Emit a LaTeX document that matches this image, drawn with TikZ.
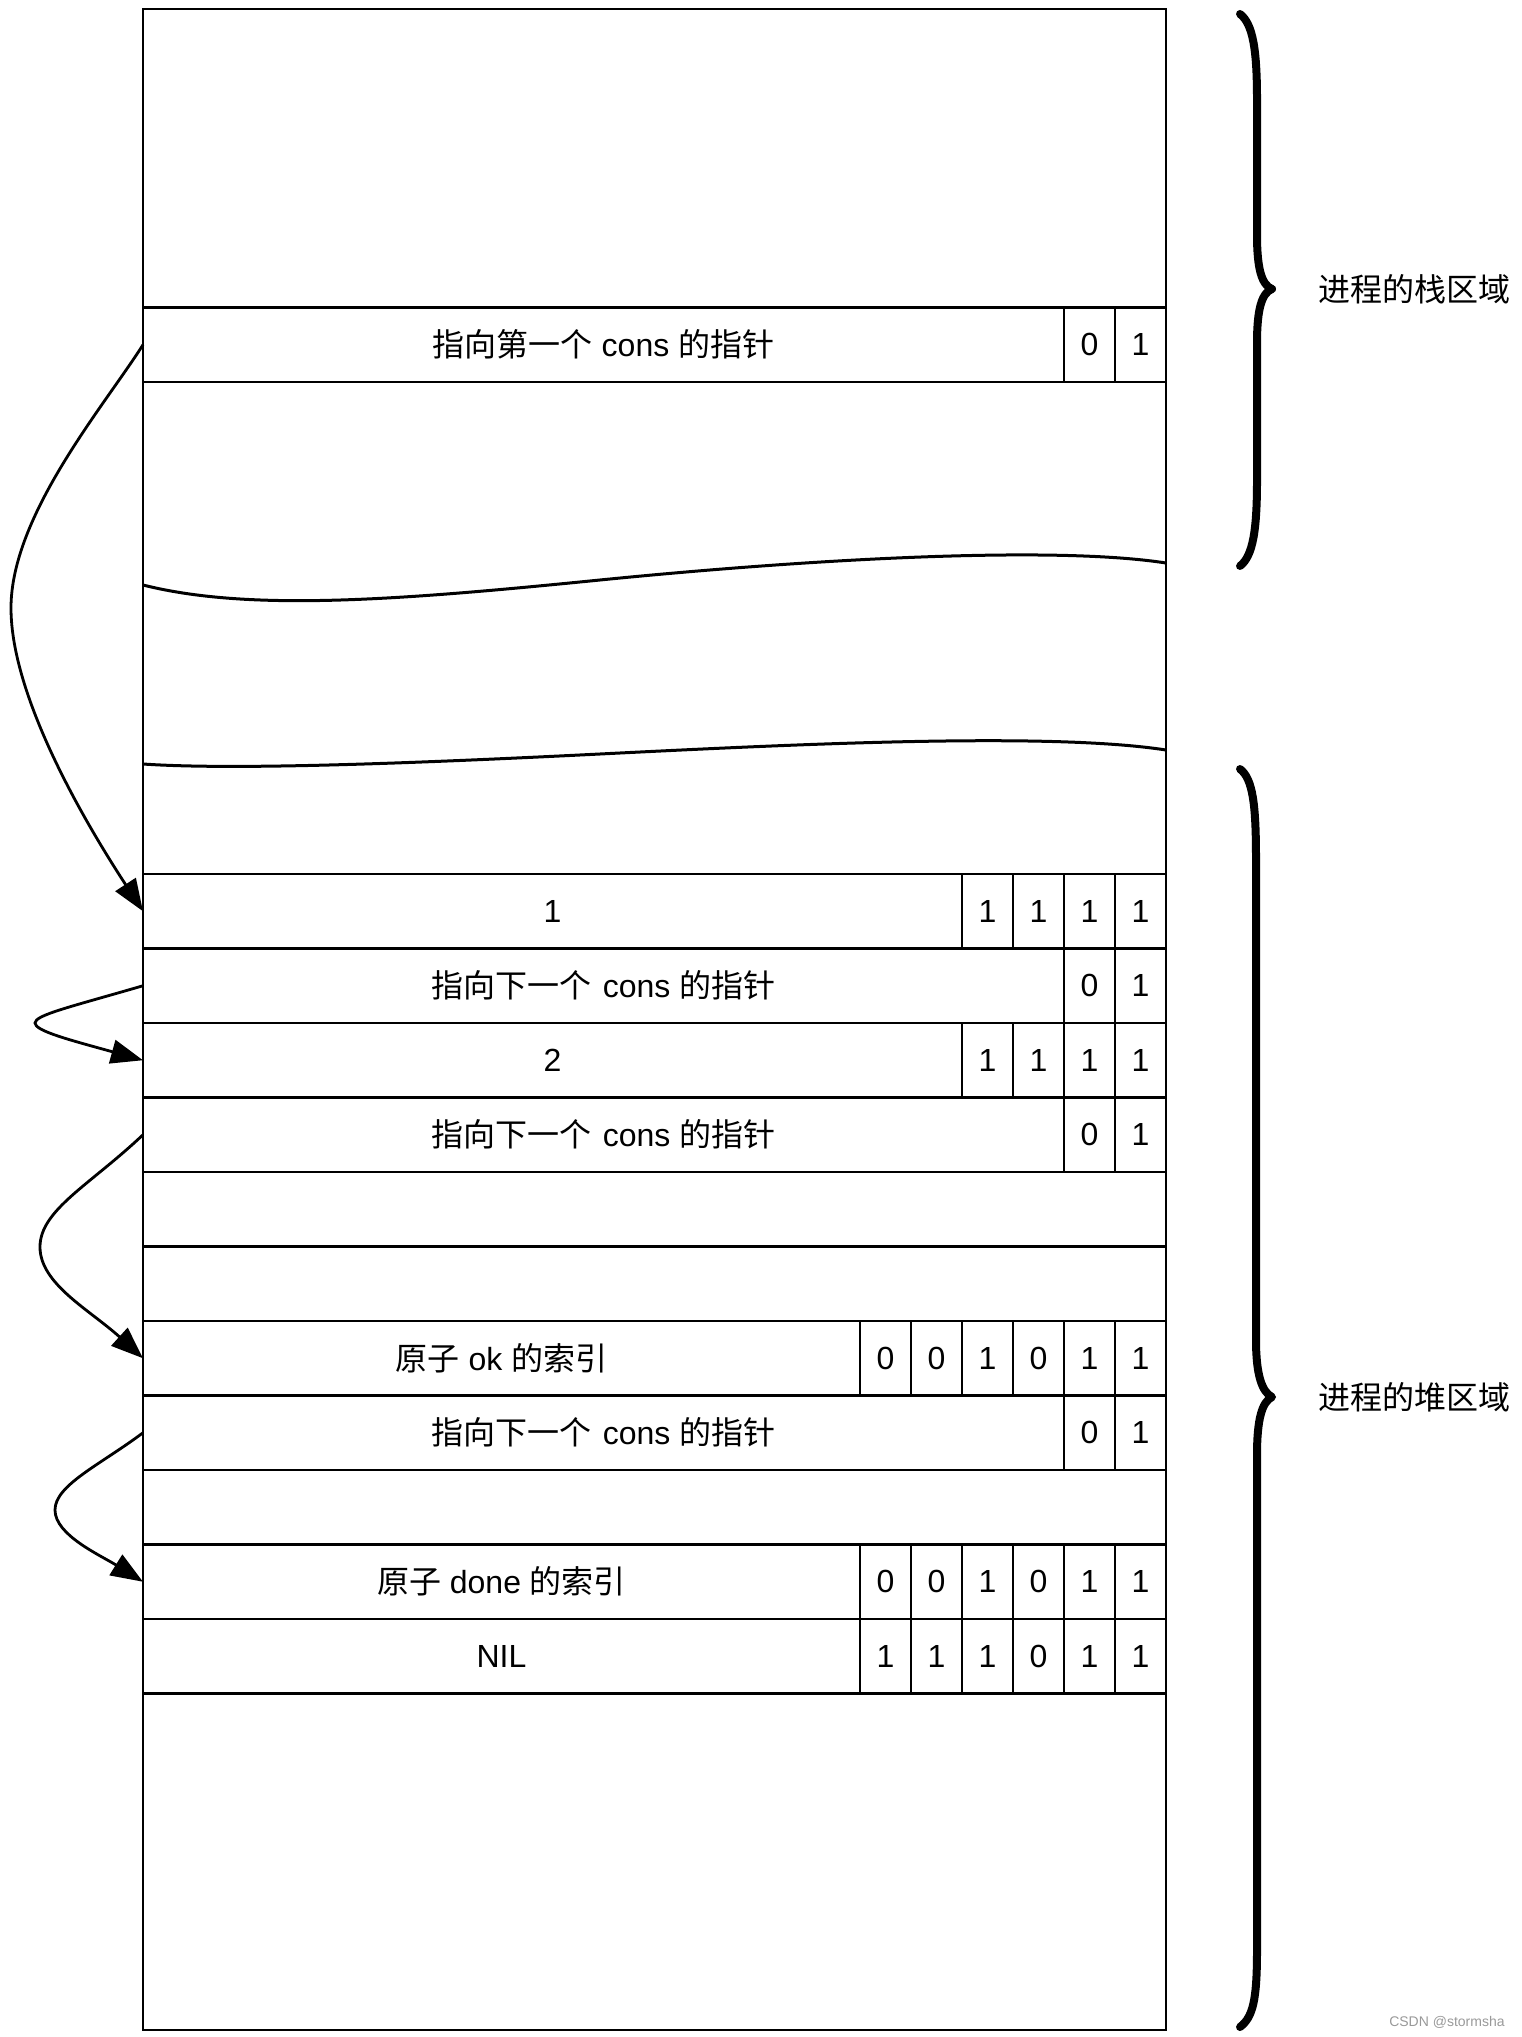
\documentclass[tikz,border=0pt]{standalone}
\usepackage{fontspec}
\setmainfont{Liberation Sans}
\newfontfamily\cjkfont{Noto Sans CJK SC}
\newcommand{\zh}[1]{{\cjkfont #1}}
\usetikzlibrary{arrows.meta}
\begin{document}
\begin{tikzpicture}[x=0.5pt,y=-0.5pt,
  box/.style={draw, line width=1.3pt, rectangle, inner sep=0pt, outer sep=0pt, anchor=north west, minimum height=37.25pt, font=\fontsize{16}{19}\selectfont},
  txt/.style={box, minimum width=#1},
  cell/.style={box, minimum width=25.5pt},
  arr/.style={line width=1.4pt, -{Triangle[length=16pt,width=12pt]}},
  wave/.style={line width=1.5pt},
  brace/.style={line width=4pt, line cap=round, line join=round},
  lbl/.style={anchor=west, inner sep=0pt, font=\fontsize{16}{19}\selectfont}]
\useasboundingbox (0,0) rectangle (1521,2037);
% memory block
\node[draw, line width=1.3pt, inner sep=0pt, outer sep=0pt, anchor=north west, minimum width=511.5pt, minimum height=1010.5pt] (mem) at (143,9) {};
% stack row
\node[txt=460.5pt] (s1) at (143,307.5) {\zh{指向第一个} cons \zh{的指针}};
\foreach \v [count=\i from 0] in {0,1} \node[cell] (s1c\i) at ({1064+51*\i},307.5) {\v};
% wavy lines
\draw[wave] (143,585) .. controls (250,612) and (400,600) .. (600,580) .. controls (800,560) and (1050,545) .. (1166,563);
\draw[wave] (143,764) .. controls (230,770) and (400,764) .. (600,754) .. controls (800,744) and (1050,732) .. (1166,750);
% heap rows
\node[txt=409.5pt] (h1) at (143,874) {1};
\foreach \v [count=\i from 0] in {1,1,1,1} \node[cell] (h1c\i) at ({962+51*\i},874) {\v};
\node[txt=460.5pt] (h2) at (143,948.5) {\zh{指向下一个}\hspace{5.5pt}cons \zh{的指针}};
\foreach \v [count=\i from 0] in {0,1} \node[cell] (h2c\i) at ({1064+51*\i},948.5) {\v};
\node[txt=409.5pt] (h3) at (143,1023) {2};
\foreach \v [count=\i from 0] in {1,1,1,1} \node[cell] (h3c\i) at ({962+51*\i},1023) {\v};
\node[txt=460.5pt] (h4) at (143,1097.5) {\zh{指向下一个}\hspace{5.5pt}cons \zh{的指针}};
\foreach \v [count=\i from 0] in {0,1} \node[cell] (h4c\i) at ({1064+51*\i},1097.5) {\v};
\node[txt=511.5pt] (e1) at (143,1172) {};
\node[txt=511.5pt] (e2) at (143,1246.5) {};
\node[txt=358.5pt] (h5) at (143,1321) {\zh{原子} ok \zh{的索引}};
\foreach \v [count=\i from 0] in {0,0,1,0,1,1} \node[cell] (h5c\i) at ({860+51*\i},1321) {\v};
\node[txt=460.5pt] (h6) at (143,1395.5) {\zh{指向下一个}\hspace{5.5pt}cons \zh{的指针}};
\foreach \v [count=\i from 0] in {0,1} \node[cell] (h6c\i) at ({1064+51*\i},1395.5) {\v};
\node[txt=511.5pt] (e3) at (143,1470) {};
\node[txt=358.5pt] (h7) at (143,1544.5) {\zh{原子} done \zh{的索引}};
\foreach \v [count=\i from 0] in {0,0,1,0,1,1} \node[cell] (h7c\i) at ({860+51*\i},1544.5) {\v};
\node[txt=358.5pt] (h8) at (143,1619) {NIL};
\foreach \v [count=\i from 0] in {1,1,1,0,1,1} \node[cell] (h8c\i) at ({860+51*\i},1619) {\v};
% pointer arrows
\draw[arr] (s1.west) .. controls (105,405) and (11,515) .. (11,608) .. controls (11,700) and (90,830) .. (h1.west);
\draw[arr] (h2.west) .. controls (70,1007) and (35,1015) .. (35,1023) .. controls (35,1031) and (70,1040) .. (h3.west);
\draw[arr] (h4.west) .. controls (90,1185) and (40,1210) .. (40,1247) .. controls (40,1284) and (90,1310) .. (h5.west);
\draw[arr] (h6.west) .. controls (100,1465) and (55,1485) .. (55,1510) .. controls (55,1535) and (100,1555) .. (h7.west);
% braces
\draw[brace] (1240,14) .. controls (1253,24) and (1257,50) .. (1257,100) -- (1257,235) .. controls (1257,270) and (1262,285) .. (1272,289) .. controls (1262,293) and (1257,308) .. (1257,343) -- (1257,480) .. controls (1257,530) and (1253,556) .. (1240,566);
\draw[brace] (1240,769) .. controls (1253,779) and (1256,805) .. (1256,860) -- (1256,1340) .. controls (1256,1375) and (1262,1392) .. (1272,1397) .. controls (1262,1402) and (1257,1419) .. (1257,1455) -- (1257,1950) .. controls (1257,2000) and (1253,2017) .. (1240,2027);
\node[lbl] (stk) at (1318,289) {\zh{进程的栈区域}};
\node[lbl] (hp) at (1318,1397) {\zh{进程的堆区域}};
\node[anchor=east, inner sep=0pt, text=black!40, font=\fontsize{7}{8}\selectfont] (wm) at (1505,2022) {CSDN @stormsha};
\end{tikzpicture}
\end{document}
